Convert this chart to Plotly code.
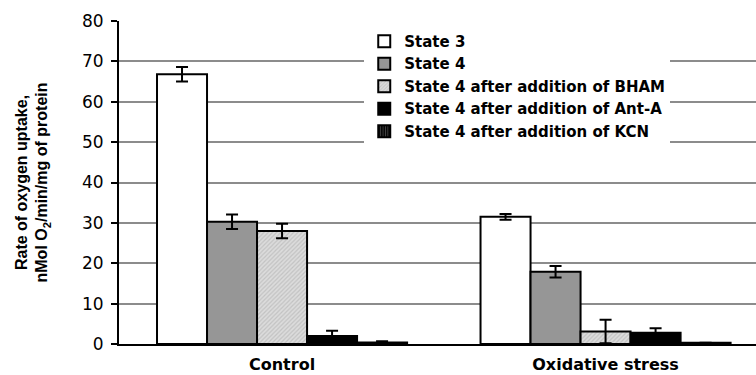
import plotly.graph_objects as go

# Experimental conditions on the x axis
conditions = ["Control", "Oxidative stress"]
condition_pos = [0, 1]

# Respiration states (series)
series_names = [
    "State 3",
    "State 4",
    "State 4 after addition of BHAM",
    "State 4 after addition of Ant-A",
    "State 4 after addition of KCN",
]

# Mean oxygen uptake (nmol O2/min/mg protein) per state, [Control, Oxidative stress]
state3 = [66.8, 31.5]
state4 = [30.3, 17.9]
state4_bham = [28.0, 3.1]
state4_anta = [2.0, 2.8]
state4_kcn = [0.4, 0.3]

# Error bar half-widths (SD)
state3_err = [1.8, 0.7]
state4_err = [1.8, 1.4]
state4_bham_err = [1.8, 2.9]
state4_anta_err = [1.3, 1.1]
state4_kcn_err = [0.3, 0.0]

y_ticks = [0, 10, 20, 30, 40, 50, 60, 70, 80]

values = [state3, state4, state4_bham, state4_anta, state4_kcn]
errors = [state3_err, state4_err, state4_bham_err, state4_anta_err, state4_kcn_err]

styles = [
    dict(color="white"),
    dict(color="#969696"),
    dict(color="#d2d2d2", pattern=dict(shape="/", fgcolor="#a8a8a8", bgcolor="#dcdcdc", size=3, solidity=0.4)),
    dict(color="black"),
    dict(color="black", pattern=dict(shape="|", fgcolor="#8c8c8c", bgcolor="black", size=3, solidity=0.4)),
]

WIDE = "DejaVu Sans, Liberation Sans, Arial, sans-serif"
ARIAL = "Liberation Sans, Arial, sans-serif"

fig = go.Figure()
for name, vals, errs, st in zip(series_names, values, errors, styles):
    fig.add_trace(go.Bar(
        x=condition_pos,
        y=vals,
        name=name,
        marker=dict(line=dict(color="black", width=2), **st),
        error_y=dict(type="data", array=errs, visible=True, color="black",
                     thickness=2, width=6),
    ))

# white panel behind the legend, hiding the gridlines there
fig.add_shape(
    type="rect", xref="paper", yref="paper",
    x0=0.378, x1=0.994, y0=0.641, y1=0.981,
    fillcolor="white", line=dict(width=0), layer="between",
)

fig.update_layout(
    width=756,
    height=375,
    barmode="group",
    bargap=0.227,
    bargroupgap=0,
    plot_bgcolor="white",
    paper_bgcolor="white",
    margin=dict(l=119, r=0, t=21, b=31, autoexpand=False),
    font=dict(family=ARIAL, color="black"),
    showlegend=True,
    legend=dict(
        x=0.385, y=0.988, xanchor="left", yanchor="top",
        bgcolor="white",
        borderwidth=0,
        font=dict(size=15, family=WIDE, color="black", weight="bold"),
        itemwidth=30,
        tracegroupgap=0,
        traceorder="normal",
    ),
    xaxis=dict(
        range=[-0.504, 1.465],
        tickmode="array",
        tickvals=condition_pos,
        ticktext=conditions,
        showgrid=False,
        zeroline=False,
        showline=True,
        linecolor="black",
        linewidth=2,
        ticks="",
        tickfont=dict(size=16, family=WIDE, weight="bold"),
        ticklabelstandoff=5,
        automargin=False,
    ),
    yaxis=dict(
        range=[0, 80],
        tickmode="array",
        tickvals=y_ticks,
        showgrid=True,
        gridcolor="#8c8c8c",
        gridwidth=1.5,
        zeroline=False,
        showline=True,
        linecolor="black",
        linewidth=2,
        ticks="outside",
        ticklen=6,
        tickwidth=1.5,
        tickcolor="black",
        tickfont=dict(size=17, family=WIDE),
        ticklabelstandoff=4,
        automargin=False,
        title=dict(
            text="Rate of oxygen uptake,<br>nMol O<sub>2</sub>/min/mg of protein",
            font=dict(size=16, family=ARIAL, weight="bold"),
            standoff=30,
        ),
    ),
)

fig.write_html("out.html")
